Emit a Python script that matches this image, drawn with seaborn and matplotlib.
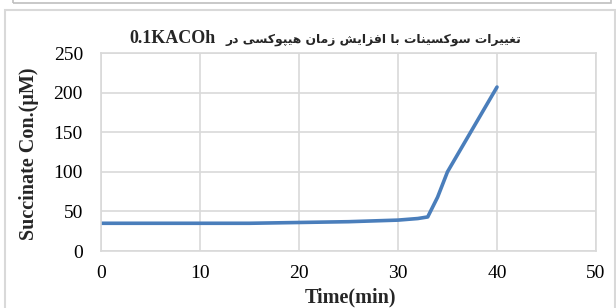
import matplotlib
matplotlib.use("Agg")
import matplotlib.pyplot as plt
import seaborn as sns
import pandas as pd
from matplotlib.patches import FancyBboxPatch

# ---- data ----
time_min = [0, 5, 10, 15, 20, 25, 30, 32, 33, 34, 35, 40]
succinate = [35, 35, 35, 35, 36, 37, 39, 41, 43, 68, 100, 207]
x_ticks = [0, 10, 20, 30, 40, 50]
y_ticks = [0, 50, 100, 150, 200, 250]
title_fa = "تغییرات سوکسینات با افزایش زمان هیپوکسی در"
title_latin = "0.1KACOh"
x_label = "Time(min)"
y_label = "Succinate Con.(μM)"

# ---- minimal Persian shaping (matplotlib has no RTL shaping) ----
FORMS = {  # iso, fin, ini, med
    "ا": ("\uFE8D", "\uFE8E", None, None),
    "ب": ("\uFE8F", "\uFE90", "\uFE91", "\uFE92"),
    "ت": ("\uFE95", "\uFE96", "\uFE97", "\uFE98"),
    "د": ("\uFEA9", "\uFEAA", None, None),
    "ر": ("\uFEAD", "\uFEAE", None, None),
    "ز": ("\uFEAF", "\uFEB0", None, None),
    "س": ("\uFEB1", "\uFEB2", "\uFEB3", "\uFEB4"),
    "ش": ("\uFEB5", "\uFEB6", "\uFEB7", "\uFEB8"),
    "غ": ("\uFECD", "\uFECE", "\uFECF", "\uFED0"),
    "ف": ("\uFED1", "\uFED2", "\uFED3", "\uFED4"),
    "م": ("\uFEE1", "\uFEE2", "\uFEE3", "\uFEE4"),
    "ن": ("\uFEE5", "\uFEE6", "\uFEE7", "\uFEE8"),
    "ه": ("\uFEE9", "\uFEEA", "\uFEEB", "\uFEEC"),
    "و": ("\uFEED", "\uFEEE", None, None),
    "پ": ("\uFB56", "\uFB57", "\uFB58", "\uFB59"),
    "ک": ("\uFB8E", "\uFB8F", "\uFB90", "\uFB91"),
    "ی": ("\uFBFC", "\uFBFD", "\uFBFE", "\uFBFF"),
}


def shape(text):
    out = []
    n = len(text)
    for i, ch in enumerate(text):
        if ch not in FORMS:
            out.append(ch)
            continue
        prev = text[i - 1] if i > 0 else None
        nxt = text[i + 1] if i + 1 < n else None
        join_prev = prev in FORMS and FORMS[prev][2] is not None
        join_next = nxt in FORMS and FORMS[ch][2] is not None
        iso, fin, ini, med = FORMS[ch]
        if join_prev and join_next:
            out.append(med)
        elif join_prev:
            out.append(fin)
        elif join_next:
            out.append(ini)
        else:
            out.append(iso)
    return "".join(out)[::-1]


# ---- plot ----
sns.set_style("white")
plt.rcParams["font.family"] = ["Liberation Serif", "DejaVu Sans"]

fig = plt.figure(figsize=(6.16, 3.08), dpi=100)
ax = fig.add_axes([101 / 616, 1 - 251 / 308, 495 / 616, 198 / 308])

# outer chart border
fig.patches.append(FancyBboxPatch((5 / 616, -0.05), 0.99, 1 - 10 / 308 + 0.05,
                                  boxstyle="square,pad=0", transform=fig.transFigure,
                                  facecolor="none", edgecolor="#d9d9d9", linewidth=1.5))
# strip of previous box at top
fig.patches.append(FancyBboxPatch((13 / 616, 1 - 3 / 308), 0.97, 0.05,
                                  boxstyle="square,pad=0", transform=fig.transFigure,
                                  facecolor="none", edgecolor="#bfbfbf", linewidth=1.2))

df = pd.DataFrame({"t": time_min, "s": succinate})
sns.lineplot(data=df, x="t", y="s", ax=ax, color="#4A7EBB", linewidth=2.6)

ax.set_xlim(0, 50)
ax.set_ylim(0, 250)
ax.set_xticks(x_ticks)
ax.set_yticks(y_ticks)
ax.grid(True, color="#d9d9d9", linewidth=1.2)
for sp in ax.spines.values():
    sp.set_color("#d9d9d9")
    sp.set_linewidth(1.2)
ax.tick_params(axis="both", length=0, labelsize=14, colors="black")
ax.tick_params(axis="x", pad=10)
ax.tick_params(axis="y", pad=13)

ax.set_xlabel(x_label, fontsize=14.5, fontweight="bold", va="top")
ax.xaxis.set_label_coords(0.503, -0.185)
ax.set_ylabel(y_label, fontsize=14.5, fontweight="bold")
ax.yaxis.set_label_coords(-0.125, 0.49)

# title: Persian part (RTL) on the right, Latin part on the left
fig.text(521 / 616, 1 - 43 / 308, shape(title_fa), ha="right", va="baseline",
         fontsize=8.9, fontweight="bold", family=["DejaVu Sans"])
fig.text(216 / 616, 1 - 43 / 308, title_latin, ha="right", va="baseline",
         fontsize=13, fontweight="bold", family=["Liberation Serif"])

fig.savefig("out.png", dpi=100)
